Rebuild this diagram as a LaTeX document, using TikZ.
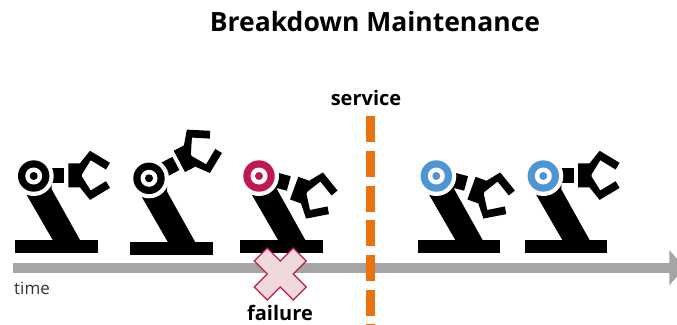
\documentclass[tikz,border=0pt]{standalone}
\usepackage{fontspec}
\setmainfont{Open Sans}
\usetikzlibrary{arrows.meta}
\definecolor{crim}{HTML}{BE1A50}
\definecolor{sky}{HTML}{5095D3}
\definecolor{axisgray}{HTML}{A5A5A5}
\definecolor{svc}{HTML}{E8730F}
\definecolor{xfill}{HTML}{EFD9DA}
\tikzset{
  x=1pt,y=-1pt,
  label text/.style={inner sep=0pt,text=black,font=\fontsize{20}{24}\selectfont\bfseries},
  pics/robot/.style n args={3}{code={
    % #1 colour, #2 forearm rotation, #3 gripper placement (y points down)
    \fill[black] (-7,19) -- (-16,-2) -- (18,-2) -- (18,13.3) -- (46.3,64) -- (19,64) -- cycle;
    \fill[black] (-18.7,64) rectangle (64,76.5);
    \fill[black,rotate=#2] (18,-8) rectangle (30.7,7);
    \fill[black,#3] (34.7,-12.7) -- (46.3,-12.7) -- (56.3,-25.2) -- (76.3,-13.2) -- (72.3,-6.5)
       -- (57,-15.8) -- (48.2,-1.5) -- (48.2,0.5) -- (57,14.5) -- (72.3,5.2) -- (76.3,11.9) -- (56.3,23.9) -- (46.3,11.4) -- (34.7,11.4) -- cycle;
    \fill[white] (0,0) circle[radius=20];
    \fill[#1] (0,0) circle[radius=15.7];
    \fill[white] (0,0) circle[radius=8.5];
    \fill[#1] (0,0) circle[radius=4];
  }}
}
\begin{document}
\begin{tikzpicture}
\useasboundingbox (0,0) rectangle (677,324);
\clip (0,0) rectangle (677,324);
\coordinate (timeStart) at (13,267.7);
\coordinate (timeEnd) at (685,267.7);
\draw[axisgray,line width=10pt,-{Triangle[length=15.7pt,width=34.3pt]}] (timeStart) -- (timeEnd);
\pic at (33.7,176) {robot={black}{0}{rotate=0}};
\pic at (149,178.3) {robot={black}{28}{rotate=28}};
\pic at (259,176) {robot={crim}{-15}{rotate=-20,xshift=2.5pt}};
\pic at (436.3,176) {robot={sky}{-15}{rotate=-20,xshift=2.5pt}};
\pic at (543.3,176) {robot={sky}{0}{rotate=0}};
\coordinate (svcTop) at (370.5,116.3);
\coordinate (svcEnd) at (370.5,326);
\draw[svc,line width=9pt,dash pattern=on 26pt off 8.67pt] (svcTop) -- (svcEnd);
\filldraw[fill=xfill,draw=crim,line width=1.2pt,shift={(280.3,274)}]
  (0,-13) -- (13,-26) -- (26,-13) -- (13,0) -- (26,13) -- (13,26) -- (0,13) -- (-13,26) -- (-26,13) -- (-13,0) -- (-26,-13) -- (-13,-26) -- cycle;
\node[label text,font=\fontsize{26.5}{30}\selectfont\bfseries] (title) at (375,22) {Breakdown Maintenance};
\node[label text] (service) at (366,98) {service};
\node[label text] (failure) at (280,312.5) {failure};
\node[inner sep=0pt,anchor=west,font=\fontsize{17}{20}\selectfont,text=black!80] (time) at (14,288) {time};
\end{tikzpicture}
\end{document}
